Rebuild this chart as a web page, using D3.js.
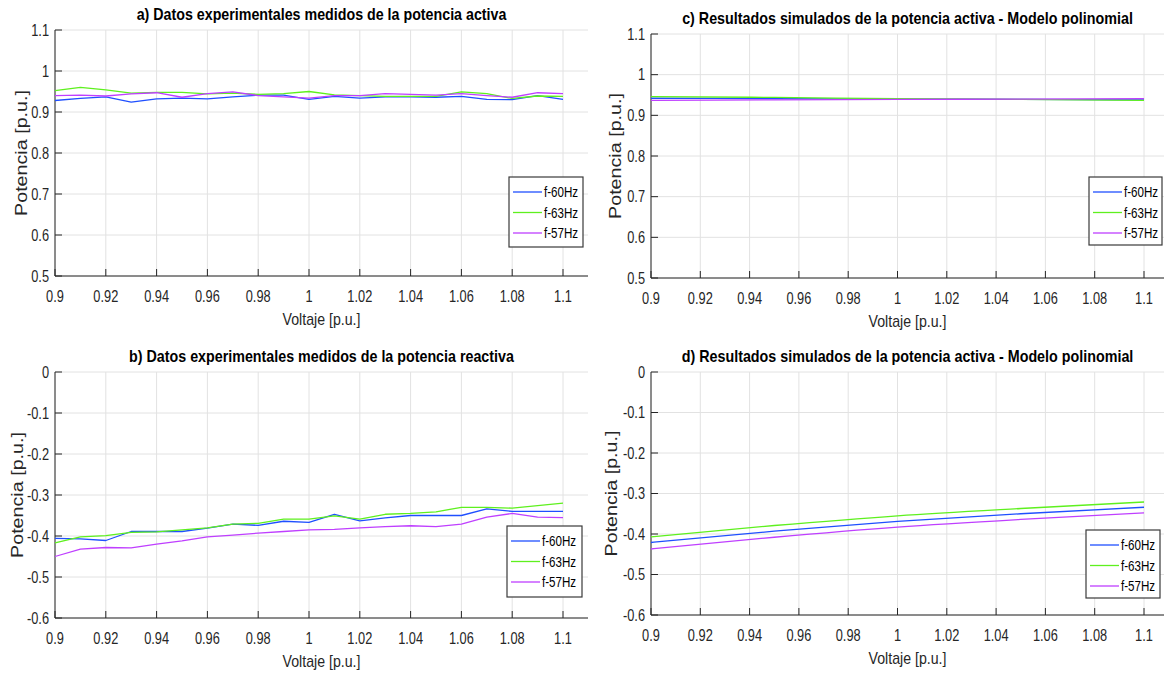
<!DOCTYPE html>
<html><head><meta charset="utf-8">
<script src="https://cdn.jsdelivr.net/npm/d3@7"></script>
<style>body{margin:0;background:#fff}svg{display:block}</style>
</head><body>
<svg id="chart" width="1164" height="677"></svg>
<script>
// ---------- DATA ----------
const voltage = [0.90,0.91,0.92,0.93,0.94,0.95,0.96,0.97,0.98,0.99,1.00,1.01,1.02,1.03,1.04,1.05,1.06,1.07,1.08,1.09,1.10];
const simVoltage = [0.90,0.95,1.00,1.05,1.10];

const seriesNames = ["f-60Hz","f-63Hz","f-57Hz"];
const seriesColors = ["#1f4fff","#5ef01e","#bf3fff"];

// a) measured active power
const expP60 = [0.928,0.933,0.937,0.924,0.932,0.934,0.932,0.937,0.941,0.941,0.931,0.938,0.934,0.937,0.937,0.936,0.938,0.931,0.930,0.940,0.931];
const expP63 = [0.952,0.960,0.954,0.946,0.948,0.948,0.944,0.946,0.943,0.945,0.950,0.942,0.940,0.938,0.938,0.938,0.949,0.945,0.933,0.939,0.938];
const expP57 = [0.940,0.941,0.939,0.944,0.947,0.936,0.945,0.949,0.940,0.937,0.934,0.940,0.940,0.945,0.943,0.941,0.945,0.940,0.936,0.947,0.945];
// b) measured reactive power
const expQ60 = [-0.406,-0.407,-0.411,-0.389,-0.389,-0.389,-0.381,-0.371,-0.374,-0.364,-0.367,-0.347,-0.363,-0.356,-0.350,-0.350,-0.350,-0.334,-0.340,-0.340,-0.340];
const expQ63 = [-0.417,-0.402,-0.399,-0.391,-0.390,-0.385,-0.380,-0.371,-0.369,-0.359,-0.359,-0.351,-0.359,-0.347,-0.345,-0.341,-0.330,-0.330,-0.332,-0.326,-0.320];
const expQ57 = [-0.450,-0.432,-0.428,-0.429,-0.420,-0.412,-0.402,-0.398,-0.393,-0.389,-0.385,-0.384,-0.380,-0.377,-0.375,-0.377,-0.371,-0.354,-0.345,-0.354,-0.355];
// c) simulated active power (polynomial model)
const simP60 = [0.942,0.941,0.940,0.939,0.938];
const simP63 = [0.946,0.944,0.941,0.939,0.937];
const simP57 = [0.937,0.938,0.939,0.940,0.941];
// d) simulated reactive power (polynomial model)
const simQ60 = [-0.421,-0.393,-0.369,-0.350,-0.334];
const simQ63 = [-0.407,-0.379,-0.355,-0.337,-0.321];
const simQ57 = [-0.437,-0.408,-0.383,-0.364,-0.348];

// ticks
const xTickValues = [0.9,0.92,0.94,0.96,0.98,1.0,1.02,1.04,1.06,1.08,1.1];
const xTickLabels = ["0.9","0.92","0.94","0.96","0.98","1","1.02","1.04","1.06","1.08","1.1"];
const pTickValues = [0.5,0.6,0.7,0.8,0.9,1.0,1.1];
const pTickLabels = ["0.5","0.6","0.7","0.8","0.9","1","1.1"];
const qTickValues = [-0.6,-0.5,-0.4,-0.3,-0.2,-0.1,0];
const qTickLabels = ["-0.6","-0.5","-0.4","-0.3","-0.2","-0.1","0"];

const titles = [
  "a) Datos experimentales medidos de la potencia activa",
  "b) Datos experimentales medidos de la potencia reactiva",
  "c) Resultados simulados de la potencia activa - Modelo polinomial",
  "d) Resultados simulados de la potencia activa - Modelo polinomial"
];
const xLabel = "Voltaje [p.u.]";
const yLabel = "Potencia [p.u.]";

// ---------- LAYOUT ----------
const panels = [
  {title:titles[0], x:voltage, ys:[expP60,expP63,expP57], yDom:[0.5,1.1], yT:pTickValues, yL:pTickLabels, smooth:false,
   left:55, x11:563, right:588, top:30, bottom:276, titleY:20, titleW:370, xlabY:325, ylabX:27, leg:[509,177,74,70]},
  {title:titles[1], x:voltage, ys:[expQ60,expQ63,expQ57], yDom:[-0.6,0], yT:qTickValues, yL:qTickLabels, smooth:false,
   left:55, x11:563, right:588, top:372, bottom:618, titleY:362, titleW:385, xlabY:667, ylabX:23, leg:[507,526,75,71]},
  {title:titles[2], x:simVoltage, ys:[simP60,simP63,simP57], yDom:[0.5,1.1], yT:pTickValues, yL:pTickLabels, smooth:true,
   left:651, x11:1144, right:1164, top:34, bottom:278, titleY:24, titleW:451, xlabY:327, ylabX:621, leg:[1089,177,73,68]},
  {title:titles[3], x:simVoltage, ys:[simQ60,simQ63,simQ57], yDom:[-0.6,0], yT:qTickValues, yL:qTickLabels, smooth:true,
   left:651, x11:1144, right:1164, top:372, bottom:615, titleY:362, titleW:452, xlabY:664, ylabX:617, leg:[1086,530,74,68]}
];

const svg = d3.select("#chart");
const AX = "#262626", GRID = "#e2e2e2";
const FONT = "'Liberation Sans', Arial, sans-serif";

function narrowText(g, x, y, str, size, anchor, opts={}) {
  return g.append("text")
    .attr("transform", `translate(${x},${y}) scale(${opts.sx||0.8},1)`)
    .attr("text-anchor", anchor)
    .attr("font-family", FONT).attr("font-size", size)
    .attr("font-weight", opts.bold ? "bold" : "normal")
    .attr("fill", opts.fill || AX)
    .attr("dy", opts.dy || 0)
    .text(str);
}
// text squeezed/stretched to a given width (along its direction)
function fitText(g, x, y, str, size, width, opts={}) {
  const t = g.append("text")
    .attr("text-anchor","middle").attr("font-family", FONT).attr("font-size", size)
    .attr("font-weight", opts.bold ? "bold" : "normal")
    .attr("fill", opts.fill || AX).text(str);
  const w = t.node().getComputedTextLength() || width;
  const s = width / w;
  t.attr("transform", `translate(${x},${y})${opts.rotate ? " rotate(-90)" : ""} scale(${s},1)`);
  return t;
}

panels.forEach(p => {
  const g = svg.append("g");
  const xs = d3.scaleLinear().domain([0.9,1.1]).range([p.left, p.x11]);
  const ys = d3.scaleLinear().domain(p.yDom).range([p.bottom, p.top]);

  // grid
  g.selectAll(".vg").data(xTickValues).join("line")
    .attr("x1", d=>xs(d)).attr("x2", d=>xs(d)).attr("y1", p.top).attr("y2", p.bottom)
    .attr("stroke", GRID).attr("stroke-width", 1);
  g.selectAll(".hg").data(p.yT).join("line")
    .attr("x1", p.left).attr("x2", p.right).attr("y1", d=>ys(d)).attr("y2", d=>ys(d))
    .attr("stroke", GRID).attr("stroke-width", 1);

  // axes lines
  g.append("line").attr("x1", p.left).attr("x2", p.left).attr("y1", p.top).attr("y2", p.bottom).attr("stroke", AX);
  g.append("line").attr("x1", p.left).attr("x2", p.right).attr("y1", p.bottom).attr("y2", p.bottom).attr("stroke", AX);
  // ticks (inward)
  g.selectAll(".xt").data(xTickValues).join("line")
    .attr("x1", d=>xs(d)).attr("x2", d=>xs(d)).attr("y1", p.bottom).attr("y2", p.bottom-7).attr("stroke", AX);
  g.selectAll(".yt").data(p.yT).join("line")
    .attr("x1", p.left).attr("x2", p.left+7).attr("y1", d=>ys(d)).attr("y2", d=>ys(d)).attr("stroke", AX);

  // tick labels
  xTickValues.forEach((v,i) => narrowText(g, xs(v), p.bottom+26, xTickLabels[i], 16, "middle"));
  p.yT.forEach((v,i) => narrowText(g, p.left-6, ys(v), p.yL[i], 16, "end", {dy:"0.36em"}));

  // series
  const line = d3.line().x((d,i)=>xs(p.x[i])).y(d=>ys(d));
  if (p.smooth) line.curve(d3.curveMonotoneX);
  p.ys.forEach((arr,k) => {
    g.append("path").datum(arr).attr("d", line)
      .attr("fill","none").attr("stroke", seriesColors[k]).attr("stroke-width", 1.3)
      .attr("stroke-linejoin","round");
  });

  // title, axis labels
  fitText(g, (p.left+p.right)/2, p.titleY, p.title, 16.5, p.titleW, {bold:true, fill:"#000"});
  fitText(g, (p.left+p.right)/2, p.xlabY, xLabel, 16, 78);
  fitText(g, p.ylabX, (p.top+p.bottom)/2, yLabel, 16, 126, {rotate:true});

  // legend
  const [lx, ly, lw, lh] = p.leg;
  const lg = g.append("g");
  lg.append("rect").attr("x", lx).attr("y", ly).attr("width", lw).attr("height", lh)
    .attr("fill","#fff").attr("stroke","#3a3a3a").attr("stroke-width",1.2);
  seriesNames.forEach((n,k) => {
    const yy = ly + 15 + k*20.5;
    lg.append("line").attr("x1", lx+4).attr("x2", lx+33).attr("y1", yy).attr("y2", yy)
      .attr("stroke", seriesColors[k]).attr("stroke-width", 1.3);
    narrowText(lg, lx+35, yy, n, 14.5, "start", {dy:"0.36em", fill:"#000"});
  });
});
</script>
</body></html>
